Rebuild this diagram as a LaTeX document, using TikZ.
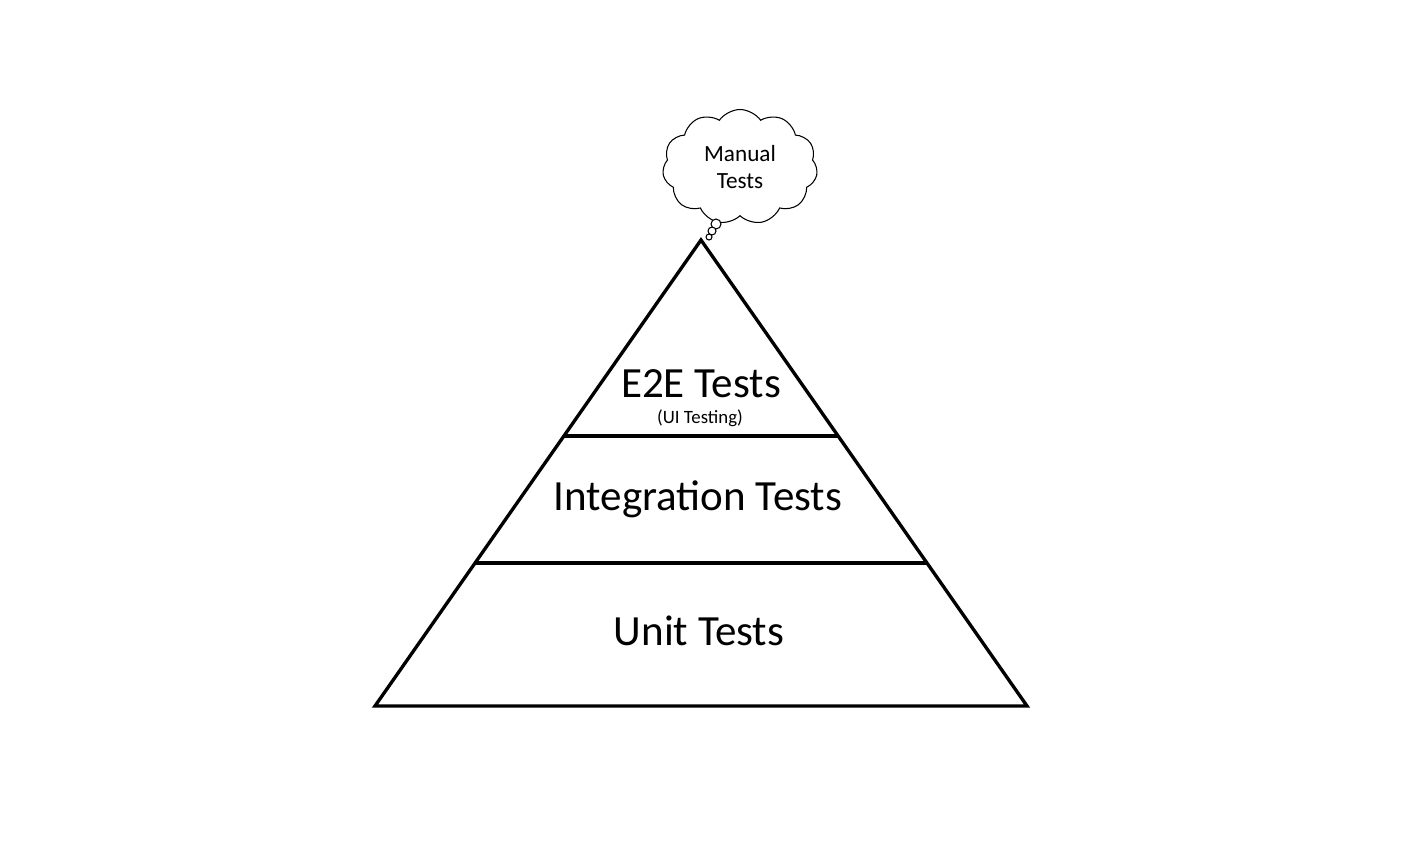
\documentclass[tikz,border=0pt]{standalone}
\usepackage{fontspec}
\setmainfont{Carlito}
\usetikzlibrary{calc}
\usetikzlibrary{shapes.symbols}

\begin{document}
\begin{tikzpicture} [x=0.02cm, y=-0.02cm]
\tikzset{
 layer/.style={font=\fontsize{24.5}{28}\selectfont},
 sublabel/.style={font=\fontsize{10.7}{12}\selectfont},
 bubble/.style={draw, line width=0.6pt, fill=white},
}
\useasboundingbox (0,0) rectangle (1419,861);
\coordinate (apex) at (701,240);
\coordinate (bl) at (375,706);
\coordinate (br) at (1027,706);
% pyramid
\draw[line width=1.9pt, line join=miter] (apex)--(bl)--(br)--cycle;
\draw[line width=1.9pt] ($(apex)!0.4206!(bl)$)--($(apex)!0.4206!(br)$);
\draw[line width=1.9pt] ($(apex)!0.6931!(bl)$)--($(apex)!0.6931!(br)$);
\node[layer] (e2e) at (701,384) {E2E Tests};
\node[sublabel] (ui) at (700,418) {(UI Testing)};
\node[layer] (integ) at (698,499) {Integration Tests};
\node[layer] (unit) at (699,631) {Unit Tests};
% thought cloud
\node[cloud, draw, line width=0.6pt, cloud puffs=11, cloud puff arc=110, aspect=1.4,
 minimum width=3.1cm, minimum height=2.3cm, align=center,
 font=\fontsize{13.2}{15.5}\selectfont] (manual) at (740,167) {Manual\\Tests};
\foreach \cx/\cy/\r in {716/224/5, 712/231/4, 709/237/3}
 \draw[bubble] (\cx,\cy) circle (\r*0.02cm);
\end{tikzpicture}
\end{document}
